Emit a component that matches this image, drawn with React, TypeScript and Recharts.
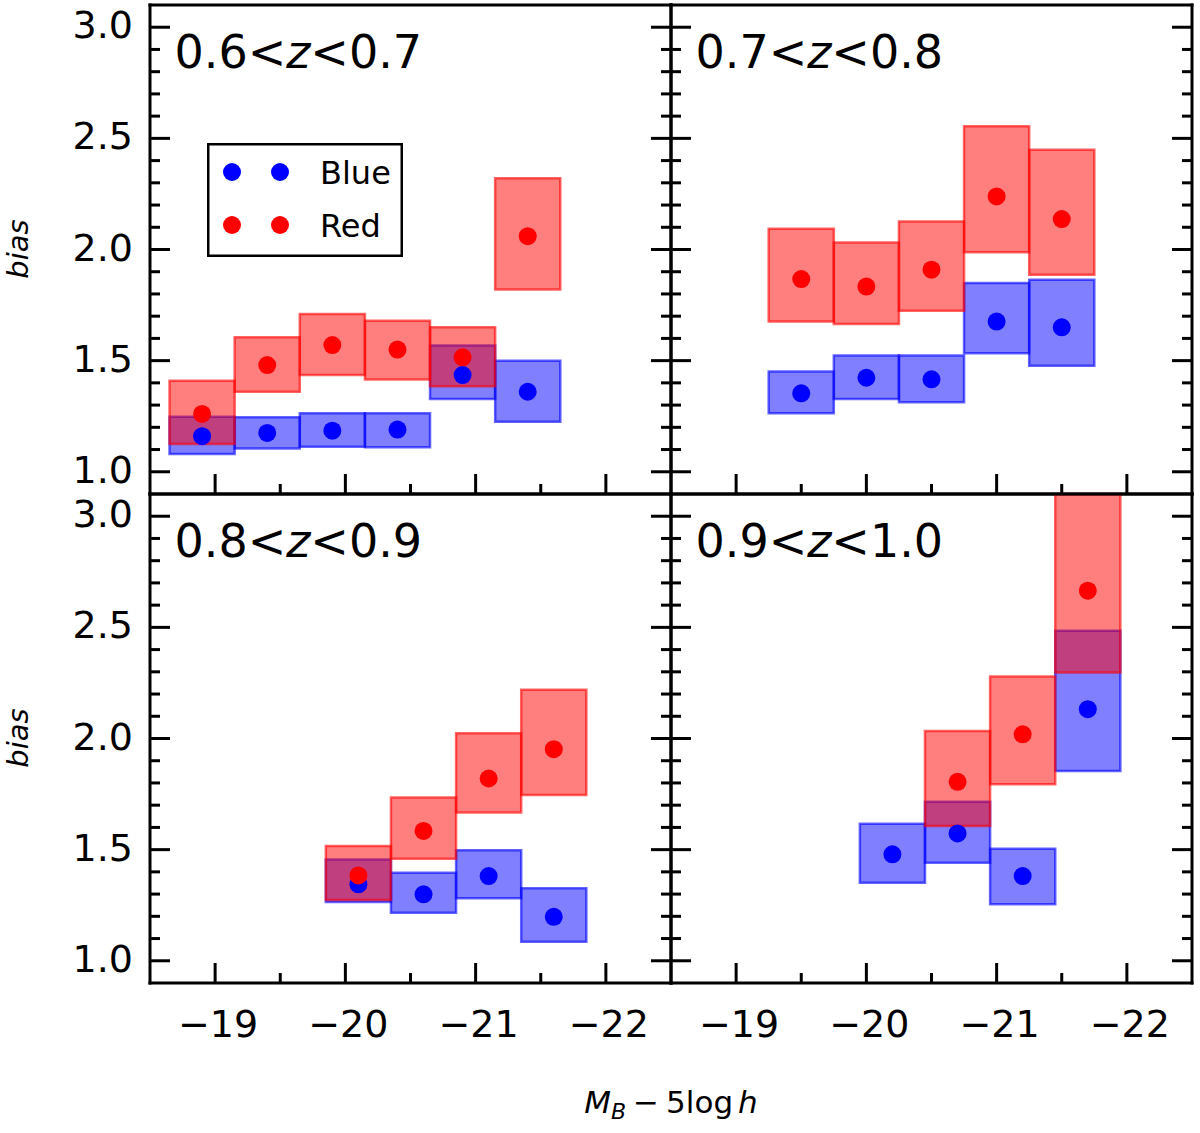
import React from "react";
import { ComposedChart, XAxis, YAxis, Scatter, ReferenceArea, Legend } from "recharts";

// axes
const X_DOMAIN = [-22.5, -18.5];
const Y_DOMAIN = [0.9, 3.1];
const X_TICKS = [-19, -19.5, -20, -20.5, -21, -21.5, -22];
const Y_TICKS = [
  1.0, 1.1, 1.2, 1.3, 1.4, 1.5, 1.6, 1.7, 1.8, 1.9, 2.0,
  2.1, 2.2, 2.3, 2.4, 2.5, 2.6, 2.7, 2.8, 2.9, 3.0,
];
const BIN_HALF_WIDTH = 0.25;

// 0.6 < z < 0.7
const mag06 = [-18.9, -19.4, -19.9, -20.4, -20.9, -21.4];
const red06 = [1.26, 1.48, 1.57, 1.55, 1.515, 2.06];
const red06Lo = [1.125, 1.36, 1.435, 1.415, 1.385, 1.82];
const red06Hi = [1.41, 1.605, 1.71, 1.68, 1.65, 2.32];
const blue06 = [1.16, 1.175, 1.185, 1.19, 1.435, 1.36];
const blue06Lo = [1.08, 1.105, 1.113, 1.11, 1.327, 1.225];
const blue06Hi = [1.248, 1.245, 1.263, 1.263, 1.568, 1.5];

// 0.7 < z < 0.8
const mag07 = [-19.5, -20.0, -20.5, -21.0, -21.5];
const red07 = [1.867, 1.833, 1.909, 2.239, 2.137];
const red07Lo = [1.676, 1.665, 1.724, 1.988, 1.886];
const red07Hi = [2.093, 2.032, 2.126, 2.554, 2.449];
const blue07 = [1.353, 1.423, 1.416, 1.676, 1.65];
const blue07Lo = [1.263, 1.327, 1.313, 1.533, 1.477];
const blue07Hi = [1.451, 1.523, 1.523, 1.849, 1.864];

// 0.8 < z < 0.9
const mag08 = [-20.1, -20.6, -21.1, -21.6];
const red08 = [1.384, 1.584, 1.82, 1.952];
const red08Lo = [1.273, 1.459, 1.667, 1.746];
const red08Hi = [1.516, 1.734, 2.024, 2.219];
const blue08 = [1.344, 1.299, 1.381, 1.198];
const blue08Lo = [1.264, 1.216, 1.281, 1.086];
const blue08Hi = [1.456, 1.396, 1.497, 1.326];

// 0.9 < z < 1.0
const magBlue09 = [-20.2, -20.7, -21.2, -21.7];
const blue09 = [1.479, 1.573, 1.381, 2.132];
const blue09Lo = [1.351, 1.441, 1.254, 1.854];
const blue09Hi = [1.617, 1.716, 1.504, 2.485];
const magRed09 = [-20.7, -21.2, -21.7];
const red09 = [1.805, 2.019, 2.665];
const red09Lo = [1.606, 1.794, 2.297];
const red09Hi = [2.034, 2.279, 3.15];

const LEGEND_NAMES = ["Blue", "Red"];
const RED = "#ff0000";
const BLUE = "#0000ff";
const FONT = "DejaVu Sans";
const DOT_R = 9;

// layout (axes get 1px of room each, recharts skips zero-size axes)
const PW = 521;
const PH = 489;
const ML = 100;
const MR = 30;
const MT = 10;
const MB = 70;
const FRAME = { stroke: "#000", strokeWidth: 3, strokeLinecap: "square" as const };

type Series = { x: number[]; y: number[]; lo: number[]; hi: number[] };

const panels = [
  {
    zlo: "0.6", zhi: "0.7", left: 149.5, top: 4.5, yLabels: true, xLabels: false, legend: true,
    red: { x: mag06, y: red06, lo: red06Lo, hi: red06Hi },
    blue: { x: mag06, y: blue06, lo: blue06Lo, hi: blue06Hi },
  },
  {
    zlo: "0.7", zhi: "0.8", left: 670.5, top: 4.5, yLabels: false, xLabels: false, legend: false,
    red: { x: mag07, y: red07, lo: red07Lo, hi: red07Hi },
    blue: { x: mag07, y: blue07, lo: blue07Lo, hi: blue07Hi },
  },
  {
    zlo: "0.8", zhi: "0.9", left: 149.5, top: 493.5, yLabels: true, xLabels: true, legend: false,
    red: { x: mag08, y: red08, lo: red08Lo, hi: red08Hi },
    blue: { x: mag08, y: blue08, lo: blue08Lo, hi: blue08Hi },
  },
  {
    zlo: "0.9", zhi: "1.0", left: 670.5, top: 493.5, yLabels: false, xLabels: true, legend: false,
    red: { x: magRed09, y: red09, lo: red09Lo, hi: red09Hi },
    blue: { x: magBlue09, y: blue09, lo: blue09Lo, hi: blue09Hi },
  },
];

const xTick = (side: "bottom" | "top", labels: boolean) => (props: any) => {
  const { x, y, payload } = props;
  const v = payload.value;
  const major = Math.abs(v - Math.round(v)) < 1e-6;
  const dir = side === "bottom" ? -1 : 1;
  return (
    <g>
      <line x1={x} y1={y} x2={x} y2={y + dir * (major ? 20 : 10)} stroke="#000" strokeWidth={3} />
      {labels && major && (
        <text x={x + 3} y={y + 54} textAnchor="middle" fontSize={38} fontFamily={FONT} fill="#000">
          {"\u2212" + Math.abs(v)}
        </text>
      )}
    </g>
  );
};

const yTick = (side: "left" | "right", labels: boolean) => (props: any) => {
  const { x, y, payload } = props;
  const v = payload.value;
  const major = Math.abs(v * 2 - Math.round(v * 2)) < 1e-6;
  const dir = side === "left" ? 1 : -1;
  return (
    <g>
      <line x1={x} y1={y} x2={x + dir * (major ? 20 : 10)} y2={y} stroke="#000" strokeWidth={3} />
      {labels && major && (
        <text x={x - 17} y={y + 11} textAnchor="end" fontSize={38} fontFamily={FONT} fill="#000">
          {v.toFixed(1)}
        </text>
      )}
    </g>
  );
};

const dot = (color: string) => (props: any) => (
  <circle cx={props.cx} cy={props.cy} r={DOT_R} fill={color} />
);

const boxes = (s: Series, color: string, tag: string) =>
  s.x.map((c, i) => (
    <ReferenceArea
      key={tag + i}
      x1={c - BIN_HALF_WIDTH}
      x2={c + BIN_HALF_WIDTH}
      y1={s.lo[i]}
      y2={s.hi[i]}
      fill={color}
      fillOpacity={0.5}
      stroke={color}
      strokeOpacity={0.6}
      strokeWidth={2.5}
      ifOverflow="hidden"
    />
  ));

const points = (s: Series) => s.x.map((x, i) => ({ x, y: s.y[i] }));

const legendContent = () => (
  <svg width={196} height={114} style={{ display: "block" }}>
    <rect x={1.25} y={1.25} width={193.5} height={111.5} fill="#fff" stroke="#000" strokeWidth={2.5} />
    {LEGEND_NAMES.map((name, i) => {
      const color = i === 0 ? BLUE : RED;
      const cy = 29 + i * 53;
      return (
        <g key={name}>
          <circle cx={25} cy={cy} r={DOT_R} fill={color} />
          <circle cx={73} cy={cy} r={DOT_R} fill={color} />
          <text x={113} y={cy + 12} fontSize={32} fontFamily={FONT} fill="#000">
            {name}
          </text>
        </g>
      );
    })}
  </svg>
);

function Panel({ p }: { p: (typeof panels)[number] }) {
  return (
    <div style={{ position: "absolute", left: p.left - ML, top: p.top - MT }}>
      <ComposedChart
        width={PW + ML + MR}
        height={PH + MT + MB}
        margin={{ top: MT - 1, right: MR - 1, bottom: MB - 1, left: ML - 1 }}
      >
        <XAxis
          type="number"
          dataKey="x"
          domain={X_DOMAIN}
          reversed
          allowDataOverflow
          ticks={X_TICKS}
          interval={0}
          height={1}
          tickSize={0}
          tickMargin={0}
          tickLine={false}
          axisLine={FRAME}
          tick={xTick("bottom", p.xLabels)}
        />
        <XAxis
          xAxisId="top"
          orientation="top"
          type="number"
          domain={X_DOMAIN}
          reversed
          allowDataOverflow
          ticks={X_TICKS}
          interval={0}
          height={1}
          tickSize={0}
          tickMargin={0}
          tickLine={false}
          axisLine={FRAME}
          tick={xTick("top", false)}
        />
        <YAxis
          type="number"
          dataKey="y"
          domain={Y_DOMAIN}
          allowDataOverflow
          ticks={Y_TICKS}
          interval={0}
          width={1}
          tickSize={0}
          tickMargin={0}
          tickLine={false}
          axisLine={FRAME}
          tick={yTick("left", p.yLabels)}
        />
        <YAxis
          yAxisId="right"
          orientation="right"
          type="number"
          domain={Y_DOMAIN}
          allowDataOverflow
          ticks={Y_TICKS}
          interval={0}
          width={1}
          tickSize={0}
          tickMargin={0}
          tickLine={false}
          axisLine={FRAME}
          tick={yTick("right", false)}
        />
        {boxes(p.blue, BLUE, "b")}
        {boxes(p.red, RED, "r")}
        <Scatter data={points(p.blue)} shape={dot(BLUE)} isAnimationActive={false} />
        <Scatter data={points(p.red)} shape={dot(RED)} isAnimationActive={false} />
        {p.legend && (
          <Legend
            layout="vertical"
            verticalAlign="middle"
            align="center"
            content={legendContent}
            wrapperStyle={{ left: 207 - (p.left - ML), top: 143 - (p.top - MT), width: 196, height: 114 }}
          />
        )}
      </ComposedChart>
    </div>
  );
}

export default function App() {
  return (
    <div style={{ position: "absolute", left: 0, top: 0, width: 1200, height: 1133, background: "#fff" }}>
      {panels.map((p) => (
        <Panel key={p.zlo} p={p} />
      ))}
      <svg
        width={1200}
        height={1133}
        style={{ position: "absolute", left: 0, top: 0, pointerEvents: "none" }}
      >
        {panels.map((p) => (
          <text key={p.zlo} x={p.left + 25} y={p.top + 63.5} fontSize={46} fontFamily={FONT} fill="#000">
            <tspan>{p.zlo}</tspan>
            <tspan>{"<"}</tspan>
            <tspan fontStyle="italic">z</tspan>
            <tspan>{"<"}</tspan>
            <tspan>{p.zhi}</tspan>
          </text>
        ))}
        {[249, 738].map((cy) => (
          <text
            key={cy}
            x={28}
            y={cy}
            transform={`rotate(-90 28 ${cy})`}
            textAnchor="middle"
            fontSize={29}
            fontStyle="italic"
            fontFamily={FONT}
            fill="#000"
          >
            bias
          </text>
        ))}
        <text x={671} y={1113} textAnchor="middle" fontSize={31} fontFamily={FONT} fill="#000">
          <tspan fontStyle="italic">M</tspan>
          <tspan fontStyle="italic" fontSize={22} dy={6}>B</tspan>
          <tspan dy={-6} dx={7}>{"\u2212"}</tspan>
          <tspan dx={7}>5log</tspan>
          <tspan dx={5} fontStyle="italic">h</tspan>
        </text>
      </svg>
    </div>
  );
}
